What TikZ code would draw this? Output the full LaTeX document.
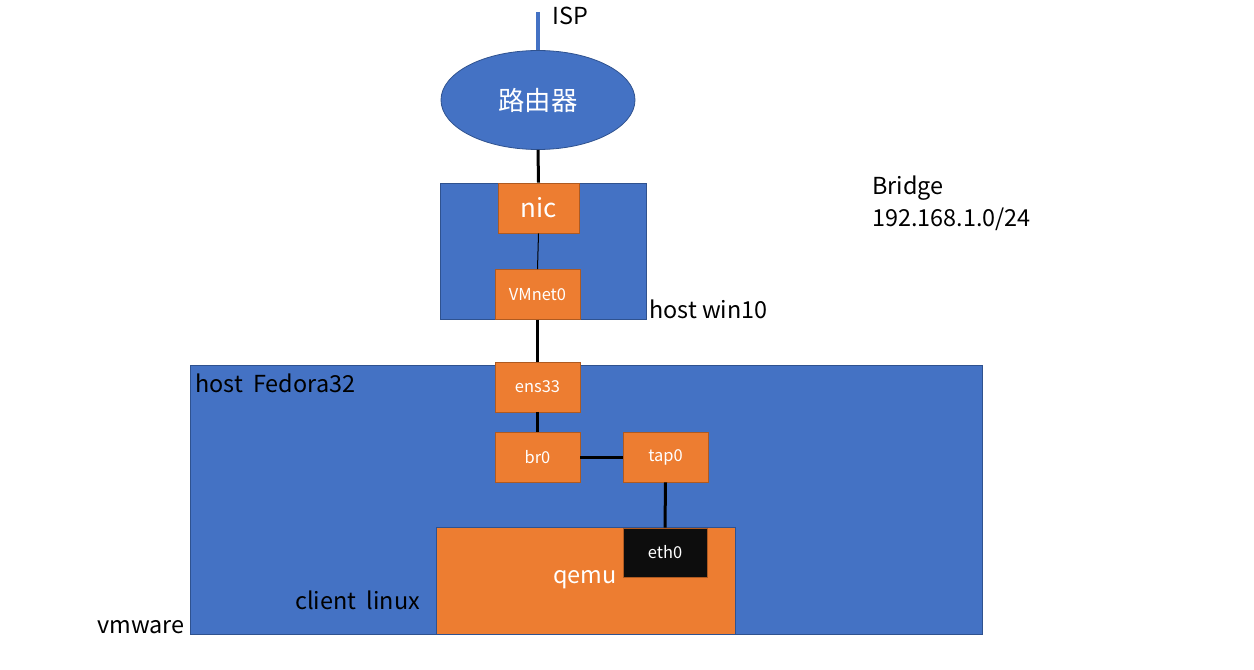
\documentclass[tikz,border=0pt]{standalone}
\usepackage{fontspec}
\setmainfont{Noto Sans CJK SC}
\usetikzlibrary{shapes.geometric}
\definecolor{mblue}{HTML}{4472C4}
\definecolor{mblueline}{HTML}{2F528F}
\definecolor{morange}{HTML}{ED7D31}
\definecolor{morangeline}{HTML}{AE5A21}
\definecolor{mblack}{HTML}{0D0D0D}
\begin{document}
\begin{tikzpicture}[x=1bp,y=-1bp,
  bluebox/.style={draw=mblueline,fill=mblue,line width=0.8bp},
  ifbox/.style={draw=morangeline,fill=morange,line width=0.8bp,text=white,inner sep=0pt,font=\fontsize{16.5}{19}\selectfont},
  lbl/.style={anchor=west,inner sep=0pt,font=\fontsize{23.5}{28}\selectfont},
  wire/.style={draw=black,line width=3bp}]
\useasboundingbox (0,0) rectangle (1254,670);
% containers
\node[bluebox,minimum width=206bp,minimum height=136bp,inner sep=0pt] (win) at (543,251) {};
\node[bluebox,minimum width=792bp,minimum height=269bp,inner sep=0pt] (fed) at (586,499.5) {};
% router
\node[ellipse,draw=mblueline,fill=mblue,line width=0.8bp,minimum width=194bp,minimum height=99bp,inner sep=0pt,text=white,font=\fontsize{26.5}{31}\selectfont] (rt) at (538,100) {路由器};
\coordinate (isp) at (538,12);
\draw[draw=mblue,line width=4bp] (isp) -- (rt.north);
\node[lbl] (ispl) at (552,16) {ISP};
% win10 interfaces
\node[ifbox,minimum width=81bp,minimum height=50bp,font=\fontsize{26}{31}\selectfont] (nic) at (538.5,208) {nic};
\node[ifbox,minimum width=85bp,minimum height=50bp] (vm) at (537.5,294.5) {VMnet0};
\draw[wire] (rt.south) -- (nic.north);
\draw[black,line width=1bp] (nic.south) -- (vm.north);
\node[lbl] (winl) at (649,309) {host win10};
\node[lbl] (br1) at (872,188) {Bridge};
\node[lbl] (br2) at (872,219) {192.168.1.0/24};
% fedora
\node[lbl] (fedl) at (195,383) {host\ \ Fedora32};
\node[ifbox,minimum width=85bp,minimum height=50bp] (ens) at (537.5,387) {ens33};
\node[ifbox,minimum width=85bp,minimum height=50bp] (br0) at (537.5,457) {br0};
\node[ifbox,minimum width=85bp,minimum height=50bp] (tap) at (665.5,457) {tap0};
\draw[wire] (vm.south) -- (ens.north);
\draw[wire] (ens.south) -- (br0.north);
\draw[wire] (br0.east) -- (tap.west);
% qemu
\node[draw=mblueline,fill=morange,line width=0.8bp,minimum width=299bp,minimum height=107bp,inner sep=0pt] (qemu) at (586,580.5) {};
\node[text=white,inner sep=0pt,font=\fontsize{23.5}{28}\selectfont] (qemul) at (585,580) {qemu};
\node[draw=morangeline,fill=mblack,line width=0.8bp,minimum width=84bp,minimum height=49bp,inner sep=0pt,text=white,font=\fontsize{16.5}{19}\selectfont] (eth) at (665,552.5) {eth0};
\draw[wire] (tap.south) -- (eth.north);
\node[lbl] (cl) at (295,600) {client\ \ linux};
\node[lbl] (vmw) at (97,627) {vmware};
\end{tikzpicture}
\end{document}
